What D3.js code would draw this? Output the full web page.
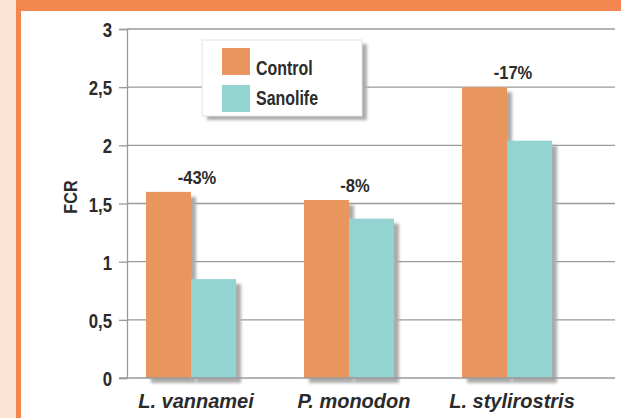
<!DOCTYPE html>
<html>
<head>
<meta charset="utf-8">
<script src="https://cdn.jsdelivr.net/npm/d3@7"></script>
<style>
  html, body { margin: 0; padding: 0; background: #fff; }
  svg { display: block; }
  text { font-family: "Liberation Sans", Arial, sans-serif; font-weight: bold; }
</style>
</head>
<body>
<svg id="chart" width="621" height="418"></svg>
<script>
const categories = ["L. vannamei", "P. monodon", "L. stylirostris"];
const seriesNames = ["Control", "Sanolife"];
const controlValues = [1.6, 1.53, 2.5];
const sanolifeValues = [0.85, 1.37, 2.04];
const changeLabels = ["-43%", "-8%", "-17%"];
const yTicks = [0, 0.5, 1, 1.5, 2, 2.5, 3];
const yTickLabels = ["0", "0,5", "1", "1,5", "2", "2,5", "3"];
const seriesColors = ["#E9965E", "#93D3D2"];

const svg = d3.select("#chart");
const W = 621, H = 418;
const textColor = "#2b2b2b";

// frame
svg.append("rect").attr("x", 0).attr("y", 0).attr("width", W).attr("height", H).attr("fill", "#FDE3D3");
svg.append("rect").attr("x", 16).attr("y", 0).attr("width", W - 16).attr("height", H).attr("fill", "#F3874F");
svg.append("rect").attr("x", 21).attr("y", 11).attr("width", W - 21).attr("height", H - 11).attr("fill", "#ffffff");

const defs = svg.append("defs");
const blur = defs.append("filter").attr("id", "blur").attr("x", "-20%").attr("y", "-20%").attr("width", "140%").attr("height", "140%");
blur.append("feGaussianBlur").attr("stdDeviation", 1.4);

const y = d3.scaleLinear().domain([0, 3]).range([378, 29]);
const x0 = d3.scaleBand().domain(categories).range([112, 586]).paddingInner(0.43).paddingOuter(0.215);
const x1 = d3.scaleBand().domain(seriesNames).range([0, x0.bandwidth()]);

const axisX = 127, gridEnd = 615;

// gridlines
svg.append("g").selectAll("line").data(yTicks.filter(d => d > 0)).join("line")
  .attr("x1", axisX).attr("x2", gridEnd)
  .attr("y1", d => y(d)).attr("y2", d => y(d))
  .attr("stroke", "#9a9a9a").attr("stroke-width", 1.3);

// y axis
const tickSX = 0.8;
const yAxis = d3.axisLeft(y).tickValues(yTicks).tickFormat((d, i) => yTickLabels[i]).tickSize(8);
const gy = svg.append("g").attr("transform", `translate(${axisX},0)`).call(yAxis);
gy.select(".domain").attr("stroke", "#9a9a9a").attr("stroke-width", 1.3);
gy.selectAll(".tick line").attr("stroke", "#9a9a9a").attr("stroke-width", 1.3);
gy.selectAll(".tick text")
  .attr("x", -15 / tickSX).attr("dy", "0.36em")
  .attr("transform", `scale(${tickSX},1)`)
  .attr("font-size", 21).attr("font-weight", "bold").attr("fill", textColor)
  .style("font-family", '"Liberation Sans", Arial, sans-serif');

// bars
const data = categories.map((c, i) => ({ cat: c, vals: [controlValues[i], sanolifeValues[i]], label: changeLabels[i] }));
const groups = svg.append("g").selectAll("g").data(data).join("g")
  .attr("transform", d => `translate(${x0(d.cat)},0)`);

// shadows
groups.selectAll("rect.shadow").data(d => d.vals.map((v, j) => ({ v, s: seriesNames[j] }))).join("rect")
  .attr("class", "shadow")
  .attr("x", d => x1(d.s) + 5).attr("y", d => y(d.v) + 5)
  .attr("width", x1.bandwidth()).attr("height", d => y(0) - y(d.v))
  .attr("fill", "#ababab").attr("filter", "url(#blur)");

groups.selectAll("rect.bar").data(d => d.vals.map((v, j) => ({ v, s: seriesNames[j], j }))).join("rect")
  .attr("class", "bar")
  .attr("x", d => x1(d.s)).attr("y", d => y(d.v))
  .attr("width", x1.bandwidth()).attr("height", d => y(0) - y(d.v))
  .attr("fill", d => seriesColors[d.j]);

// baseline
svg.append("line").attr("x1", axisX - 8).attr("x2", gridEnd).attr("y1", y(0)).attr("y2", y(0))
  .attr("stroke", "#9a9a9a").attr("stroke-width", 1.3);

// change labels
groups.append("g")
  .attr("transform", d => `translate(${x0.bandwidth() / 2 + 6},${y(d.vals[0]) - 8}) scale(0.92,1)`)
  .append("text")
  .attr("text-anchor", "middle")
  .attr("font-size", 18).attr("fill", textColor)
  .text(d => d.label);

// category labels
const xAxis = d3.axisBottom(x0).tickSize(0).tickPadding(0);
const gx = svg.append("g").attr("transform", `translate(0,${y(0)})`).call(xAxis);
gx.select(".domain").remove();
gx.selectAll(".tick text")
  .attr("y", 0).attr("dy", 0)
  .attr("transform", "translate(5,30)")
  .attr("font-size", 20).attr("font-weight", "bold").attr("font-style", "italic")
  .attr("fill", textColor)
  .style("font-family", '"Liberation Sans", Arial, sans-serif');

// y title
svg.append("text").attr("transform", "translate(77,197) rotate(-90) scale(0.9,1)")
  .attr("text-anchor", "middle").attr("font-size", 18).attr("fill", textColor)
  .text("FCR");

// legend
const lg = svg.append("g").attr("transform", "translate(202,40)");
lg.append("rect").attr("x", 5).attr("y", 4).attr("width", 160).attr("height", 76).attr("fill", "#ababab").attr("filter", "url(#blur)");
lg.append("rect").attr("x", 0).attr("y", 0).attr("width", 160).attr("height", 76).attr("fill", "#fff").attr("stroke", "#e2e2e2");
seriesNames.forEach((s, i) => {
  lg.append("rect").attr("x", 20).attr("y", 8 + i * 37).attr("width", 28).attr("height", 27).attr("fill", seriesColors[i]);
  lg.append("g").attr("transform", `translate(54,${35 + i * 30}) scale(0.76,1)`)
    .append("text").attr("font-size", 21).attr("fill", textColor).text(s);
});
</script>
</body>
</html>
